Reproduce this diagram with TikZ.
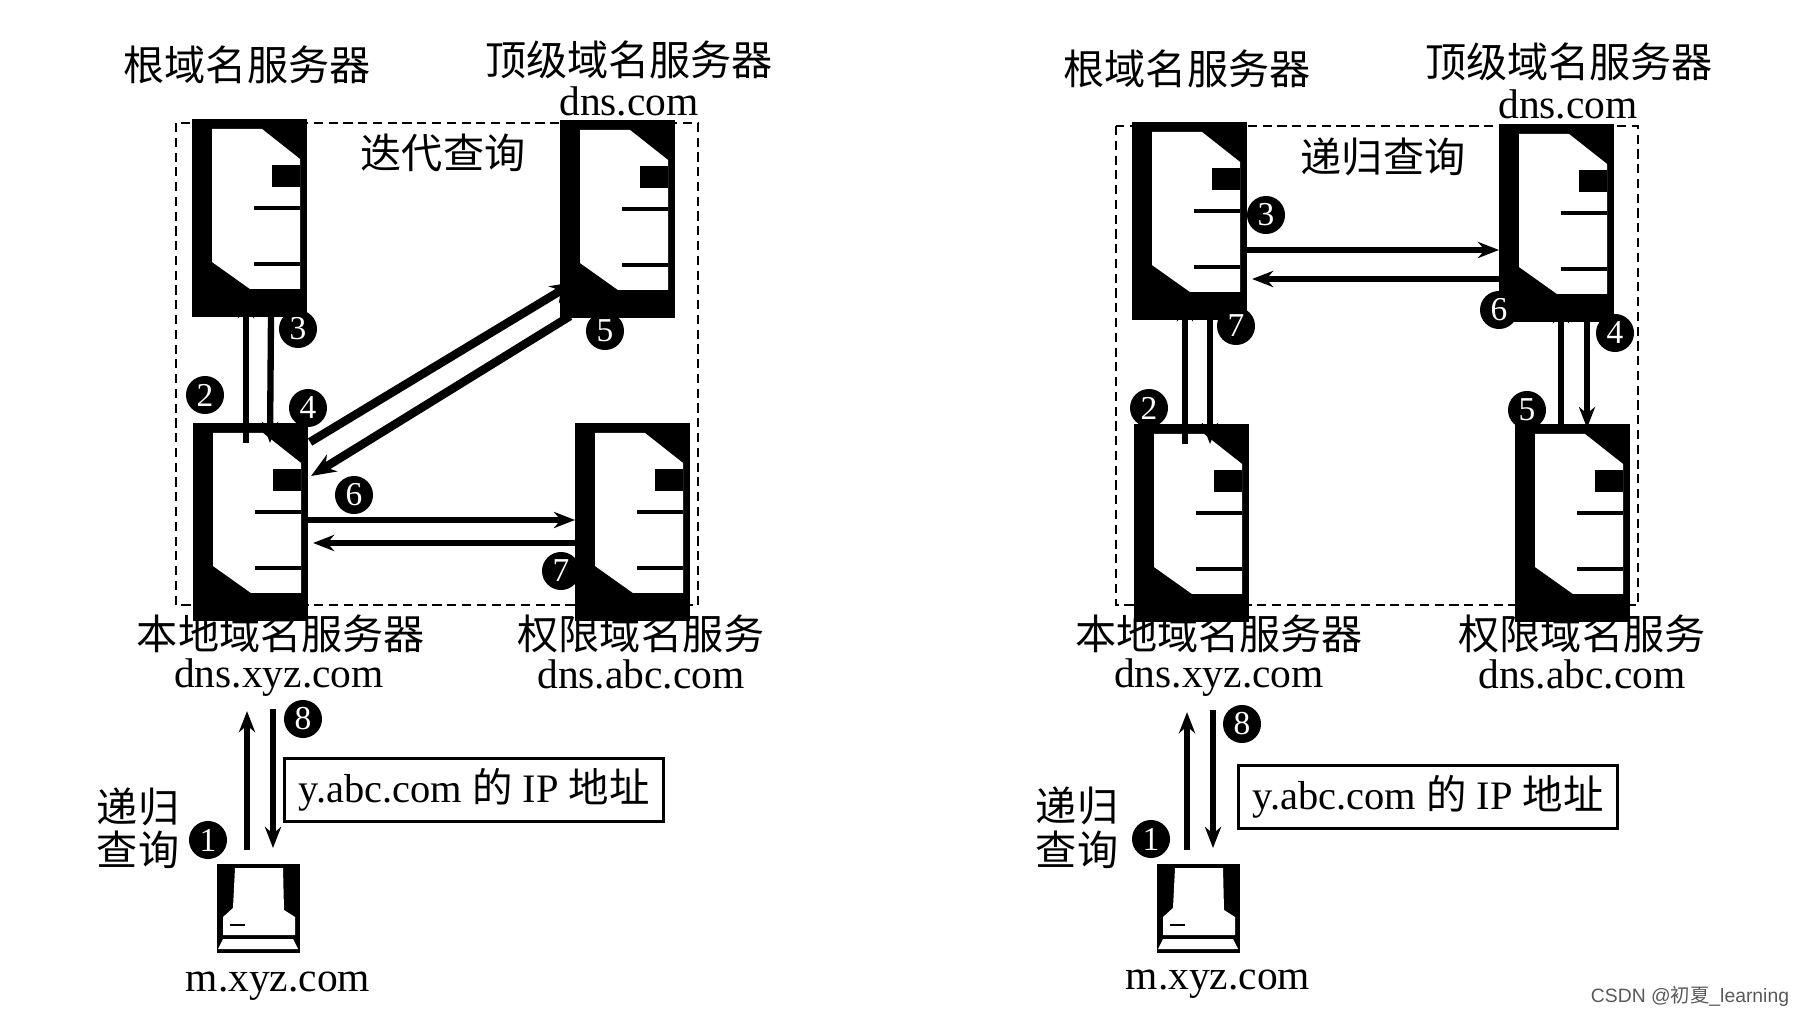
\documentclass[tikz,border=0pt]{standalone}
\usepackage{fontspec}
\setmainfont{Liberation Serif}
\newfontfamily\cjk{Noto Sans CJK SC}
\newfontfamily\marksf{Liberation Sans}
\usetikzlibrary{arrows.meta,calc}
\tikzset{
  server/.pic={
    \node[fill=black, inner sep=0pt, outer sep=0pt, minimum width=1.15cm, minimum height=1.98cm, anchor=north west] (-box) at (0,0) {};
    \fill[white] (20,10) -- (70,10) -- (108,40) -- (108,170) -- (58,170) -- (20,143) -- cycle;
    \fill[black] (80,46) rectangle (108,68);
    \draw[black, line width=1pt] (62,89) -- (108,89);
    \draw[black, line width=1pt] (62,145) -- (108,145);
  },
  client/.pic={
    \node[fill=black, inner sep=0pt, outer sep=0pt, minimum width=0.83cm, minimum height=0.89cm, anchor=north west] (-box) at (0,0) {};
    \fill[white] (18,4) -- (66,4) -- (67,46) -- (78,53) -- (78,71) -- (6,71) -- (6,53) -- (16,44) -- cycle;
    \fill[white] (6,75) -- (76,75) -- (81,85) -- (1,85) -- cycle;
    \draw[black, line width=0.8pt] (13,61) -- (28,61);
  },
  badge/.style={circle, fill=black, text=white, inner sep=0pt, minimum size=0.38cm, font=\fontsize{9.5}{10}\selectfont},
  cnlabel/.style={inner sep=0pt, font=\cjk\fontsize{11.7}{13}\selectfont},
  enlabel/.style={inner sep=0pt, font=\fontsize{11.8}{14}\selectfont},
  result/.style={draw, line width=0.8pt, inner sep=0pt, minimum width=3.79cm, minimum height=0.63cm, font=\fontsize{11.5}{14}\selectfont},
  zone/.style={dashed, line width=0.8pt, dash pattern=on 2.6pt off 1.6pt},
  flow/.style={-{Stealth[length=6pt,width=4.6pt]}, line width=1.8pt},
  wideflow/.style={-{Stealth[length=7pt,width=5.6pt]}, line width=2.4pt},
}
\begin{document}
\begin{tikzpicture}[x=0.01cm,y=-0.01cm]
\useasboundingbox (0,0) rectangle (1800,1016);
% iterative
\draw[zone] (176,123) rectangle (698,605);
\pic (root1) at (192,119) {server};
\pic (top1) at (560,120) {server};
\pic (local1) at (193,423) {server};
\pic (auth1) at (575,423) {server};
\pic (pc1) at (217,864) {client};
\draw[flow] ($(local1-box.north west)+(53,20)$) -- ($(root1-box.south west)+(54,-20)$);
\draw[flow] ($(root1-box.south west)+(79,0)$) -- ($(local1-box.north west)+(77,20)$);
\draw[wideflow] ($(local1-box.north east)+(2,19)$) -- ($(top1-box.north west)+(15,162)$);
\draw[wideflow] ($(top1-box.south west)+(10,-2)$) -- ($(local1-box.north east)+(3,53)$);
\draw[flow] ($(local1-box.north east)+(0,97)$) -- ($(auth1-box.north west)+(0,97)$);
\draw[flow] ($(auth1-box.north west)+(0,120)$) -- ($(local1-box.north east)+(5,120)$);
\draw[flow] ($(pc1-box.north west)+(30,-14)$) -- ($(local1-box.south west)+(54,90)$);
\draw[flow] ($(local1-box.south west)+(80,88)$) -- ($(pc1-box.north west)+(56,-16)$);
\node[badge] (a3) at (298,329) {3};
\node[badge] (a2) at (205,395) {2};
\node[badge] (a4) at (308,408) {4};
\node[badge] (a5) at (605,331) {5};
\node[badge] (a6) at (354,495) {6};
\node[badge] (a7) at (561,571) {7};
\node[badge] (a8) at (303,719) {8};
\node[badge] (a1) at (208,840) {1};
\node[cnlabel] (rootname1) at (247,65) {根域名服务器};
\node[cnlabel] (topname1) at (629,60) {顶级域名服务器};
\node[enlabel] (topdns1) at (629,101) {dns.com};
\node[cnlabel] (mode1) at (443,153) {迭代查询};
\node[cnlabel] (localname1) at (281,634) {本地域名服务器};
\node[enlabel] (localdns1) at (279,678) {dns.xyz.com};
\node[cnlabel] (authname1) at (641,634) {权限域名服务};
\node[enlabel] (authdns1) at (641,674) {dns.abc.com};
\node[result] (answer1) at (474,790) {y.abc.com {\cjk 的} IP {\cjk 地址}};
\node[cnlabel] (kinda1) at (138,807) {递归};
\node[cnlabel] (kindb1) at (138,850) {查询};
\node[enlabel] (pcname1) at (278,986) {m.xyz.com};
% recursive
\draw[zone] (1116,126) rectangle (1638,605);
\pic (root2) at (1132,122) {server};
\pic (top2) at (1499,124) {server};
\pic (local2) at (1134,424) {server};
\pic (auth2) at (1515,424) {server};
\pic (pc2) at (1157,864) {client};
\draw[flow] ($(root2-box.north east)+(0,128)$) -- ($(top2-box.north west)+(0,126)$);
\draw[flow] ($(top2-box.north west)+(0,155)$) -- ($(root2-box.north east)+(5,157)$);
\draw[flow] ($(local2-box.north west)+(51,20)$) -- ($(root2-box.south west)+(53,-20)$);
\draw[flow] ($(root2-box.south west)+(78,0)$) -- ($(local2-box.north west)+(76,20)$);
\draw[flow] ($(top2-box.south west)+(88,0)$) -- ($(auth2-box.north west)+(72,4)$);
\draw[flow] ($(auth2-box.north west)+(46,0)$) -- ($(top2-box.south west)+(62,-20)$);
\draw[flow] ($(pc2-box.north west)+(30,-14)$) -- ($(local2-box.south west)+(53,90)$);
\draw[flow] ($(local2-box.south west)+(79,88)$) -- ($(pc2-box.north west)+(56,-16)$);
\node[badge] (b3) at (1266,215) {3};
\node[badge] (b7) at (1236,326) {7};
\node[badge] (b6) at (1499,310) {6};
\node[badge] (b4) at (1615,333) {4};
\node[badge] (b2) at (1149,408) {2};
\node[badge] (b5) at (1527,410) {5};
\node[badge] (b8) at (1242,724) {8};
\node[badge] (b1) at (1151,839) {1};
\node[cnlabel] (rootname2) at (1187,69) {根域名服务器};
\node[cnlabel] (topname2) at (1569,62) {顶级域名服务器};
\node[enlabel] (topdns2) at (1568,104) {dns.com};
\node[cnlabel] (mode2) at (1383,157) {递归查询};
\node[cnlabel] (localname2) at (1219,634) {本地域名服务器};
\node[enlabel] (localdns2) at (1219,678) {dns.xyz.com};
\node[cnlabel] (authname2) at (1582,634) {权限域名服务};
\node[enlabel] (authdns2) at (1582,674) {dns.abc.com};
\node[result] (answer2) at (1428,797) {y.abc.com {\cjk 的} IP {\cjk 地址}};
\node[cnlabel] (kinda2) at (1077,806) {递归};
\node[cnlabel] (kindb2) at (1077,850) {查询};
\node[enlabel] (pcname2) at (1218,984) {m.xyz.com};
\node[inner sep=0pt, text=black!65, font=\marksf\fontsize{5.5}{8}\selectfont] (mark) at (1690,996) {CSDN @{\cjk 初夏}\_learning};
\end{tikzpicture}
\end{document}
